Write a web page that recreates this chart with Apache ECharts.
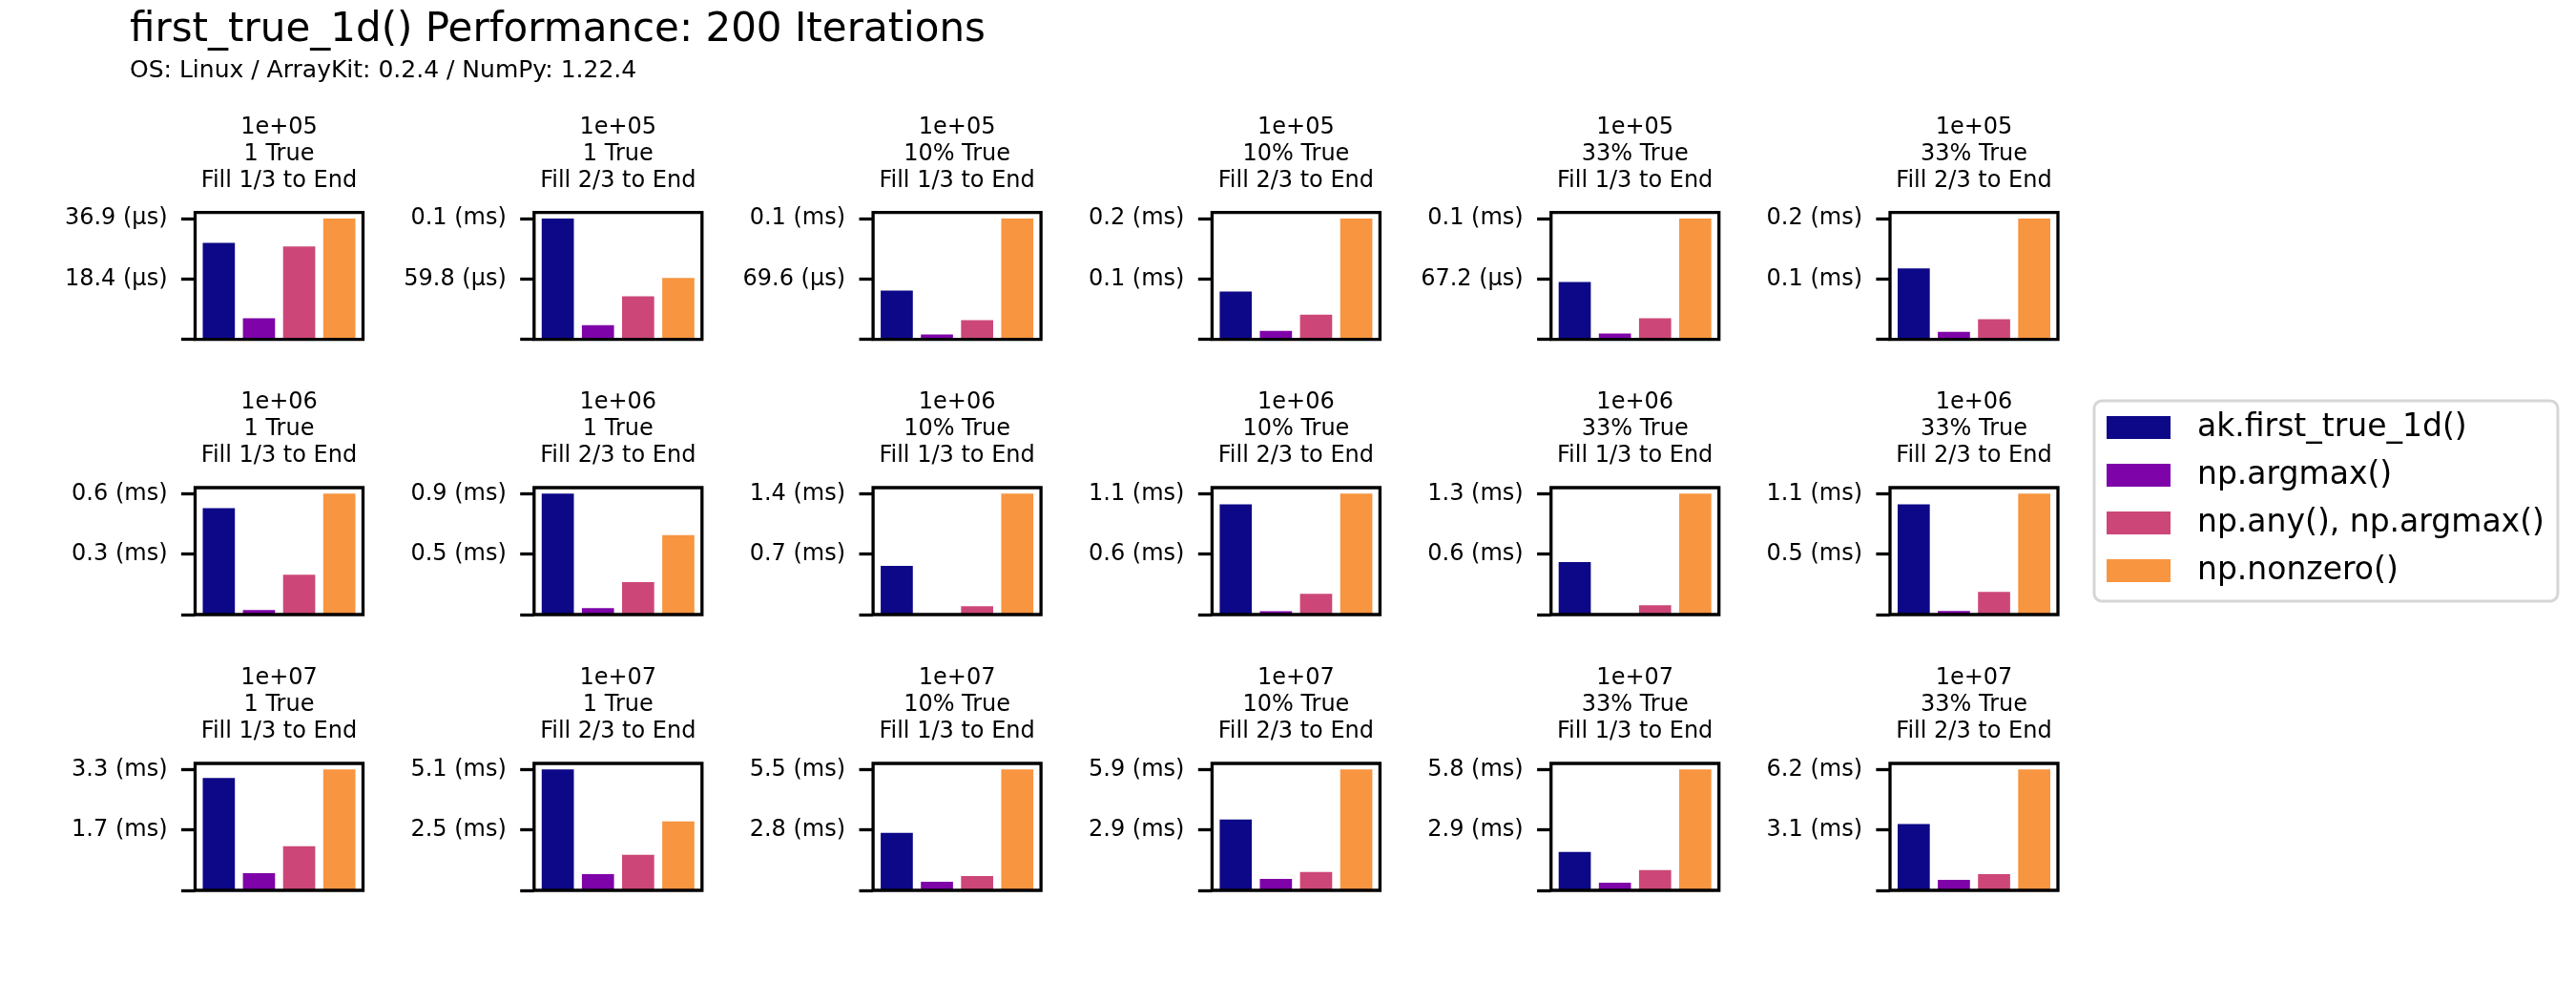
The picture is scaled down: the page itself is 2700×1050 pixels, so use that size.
<!DOCTYPE html>
<html>
<head>
<meta charset="utf-8">
<script src="https://cdn.jsdelivr.net/npm/echarts@6/dist/echarts.min.js"></script>
<style>
  html, body { margin: 0; padding: 0; background: #fff; }
  #chart { width: 2700px; height: 1050px; }
  #err { position: absolute; left: 10px; top: 960px; font: 14px monospace; white-space: pre; color: red; }
</style>
</head>
<body>
<div id="chart"></div>
<div id="err"></div>
<script>
// panel captions
var sizes = ['1e+05', '1e+06', '1e+07'];
var trueCounts = ['1 True', '1 True', '10% True', '10% True', '33% True', '33% True'];
var fills = ['Fill 1/3 to End', 'Fill 2/3 to End', 'Fill 1/3 to End', 'Fill 2/3 to End', 'Fill 1/3 to End', 'Fill 2/3 to End'];

var methods = ['ak.first_true_1d()', 'np.argmax()', 'np.any(), np.argmax()', 'np.nonzero()'];
var colors = ['#0d0887', '#7e03a8', '#cc4778', '#f89540'];

// durations in ms, one entry per panel (row by row)
var akValues = [0.0295, 0.1196, 0.0564, 0.0754, 0.0640, 0.1115,
	0.528, 0.92, 0.564, 1.021, 0.557, 0.985,
	3.084, 5.08, 2.628, 3.452, 1.845, 3.398];
var argmaxValues = [0.0065, 0.0142, 0.0056, 0.0135, 0.0065, 0.0120,
	0.022, 0.049, 0.008, 0.032, 0.006, 0.031,
	0.475, 0.686, 0.392, 0.559, 0.367, 0.539];
var anyArgmaxValues = [0.0284, 0.0427, 0.0221, 0.0391, 0.0235, 0.0317,
	0.198, 0.247, 0.097, 0.193, 0.099, 0.203,
	1.212, 1.494, 0.657, 0.888, 0.972, 0.837];
var nonzeroValues = [0.0369, 0.0608, 0.1392, 0.19, 0.1344, 0.19,
	0.6, 0.605, 1.4, 1.12, 1.28, 1.08,
	3.32, 2.90, 5.52, 5.88, 5.82, 6.2];

// tick labels: top tick = panel max, mid tick = half of it
var topLabels = ['36.9 (µs)', '0.1 (ms)', '0.1 (ms)', '0.2 (ms)', '0.1 (ms)', '0.2 (ms)',
	'0.6 (ms)', '0.9 (ms)', '1.4 (ms)', '1.1 (ms)', '1.3 (ms)', '1.1 (ms)',
	'3.3 (ms)', '5.1 (ms)', '5.5 (ms)', '5.9 (ms)', '5.8 (ms)', '6.2 (ms)'];
var midLabels = ['18.4 (µs)', '59.8 (µs)', '69.6 (µs)', '0.1 (ms)', '67.2 (µs)', '0.1 (ms)',
	'0.3 (ms)', '0.5 (ms)', '0.7 (ms)', '0.6 (ms)', '0.6 (ms)', '0.5 (ms)',
	'1.7 (ms)', '2.5 (ms)', '2.8 (ms)', '2.9 (ms)', '2.9 (ms)', '3.1 (ms)'];

var allValues = [akValues, argmaxValues, anyArgmaxValues, nonzeroValues];

var FONT = 'DejaVu Sans';
var boxLeft = 204.5, boxStep = 355.3, boxW = 176, boxH = 133;
var boxTops = [222.7, 511, 800];
var unit = boxW / 4.18;

function build(legendPad) {
	var grids = [], xAxes = [], yAxes = [], series = [], titles = [];
	titles.push({
		text: 'first_true_1d() Performance: 200 Iterations',
		left: 136, top: 11, padding: 0,
		textStyle: { fontFamily: FONT, fontSize: 42, fontWeight: 'normal', color: '#000' }
	});
	titles.push({
		text: 'OS: Linux / ArrayKit: 0.2.4 / NumPy: 1.22.4',
		left: 136, top: 62, padding: 0,
		textStyle: { fontFamily: FONT, fontSize: 25, fontWeight: 'normal', color: '#000' }
	});
	for (var i = 0; i < 18; i += 1) {
		var row = Math.floor(i / 6), col = i % 6;
		var left = boxLeft + col * boxStep, top = boxTops[row];
		var peak = Math.max(akValues[i], argmaxValues[i], anyArgmaxValues[i], nonzeroValues[i]);
		grids.push({
			left: left, top: top, width: boxW, height: boxH,
			show: true, z: 5, backgroundColor: 'transparent',
			borderColor: '#000', borderWidth: 3.3
		});
		xAxes.push({
			type: 'value', gridIndex: i, min: -0.59, max: 3.59,
			axisLine: { show: false, onZero: false }, axisTick: { show: false },
			axisLabel: { show: false }, splitLine: { show: false }
		});
		yAxes.push({
			type: 'value', gridIndex: i, min: 0, max: peak * 1.05,
			axisLine: { show: false, onZero: false },
			splitLine: { show: false },
			axisTick: {
				show: true, length: 14.6,
				customValues: [0, peak / 2, peak],
				lineStyle: { color: '#000', width: 3.3 }
			},
			axisLabel: {
				show: true, margin: 29,
				customValues: [peak / 2, peak],
				fontFamily: FONT, fontSize: 24, color: '#000',
				formatter: (function(t, md, p) {
					return function(value) {
						if (Math.abs(value - p) < p * 1e-6) return t;
						if (Math.abs(value - p / 2) < p * 1e-6) return md;
						return '';
					};
				})(topLabels[i], midLabels[i], peak)
			}
		});
		for (var m = 0; m < methods.length; m += 1) {
			series.push({
				name: methods[m], type: 'bar',
				xAxisIndex: i, yAxisIndex: i,
				barWidth: 0.8 * unit, barGap: '-100%',
				itemStyle: { color: colors[m] },
				data: [[m, allValues[m][i]]]
			});
		}
		titles.push({
			text: sizes[row] + '\n' + trueCounts[col] + '\n' + fills[col],
			left: left + boxW / 2, top: top - 103, padding: 0,
			textAlign: 'center',
			textStyle: { fontFamily: FONT, fontSize: 24, fontWeight: 'normal', color: '#000', lineHeight: 28 }
		});
	}
	var legendText = { fontFamily: FONT, fontSize: 33, color: '#000', lineHeight: 36 };
	if (legendPad) {
		legendText.padding = [0, 0, 0, 23];
	}
	return {
		animation: false,
		backgroundColor: '#fff',
		title: titles,
		grid: grids,
		xAxis: xAxes,
		yAxis: yAxes,
		legend: {
			data: methods,
			orient: 'vertical',
			left: 2195, top: 420,
			icon: 'rect',
			itemWidth: 67, itemHeight: 24, itemGap: 14,
			selectedMode: false,
			padding: [10, 14, 14, 13],
			backgroundColor: '#fff',
			borderColor: '#d6d6d6', borderWidth: 3, borderRadius: 8,
			textStyle: legendText
		},
		series: series
	};
}

var myChart = echarts.init(document.getElementById('chart'));
try {
	myChart.setOption(build(true));
} catch (e) {
	document.getElementById('err').textContent = String(e);
	myChart.dispose();
	myChart = echarts.init(document.getElementById('chart'));
	myChart.setOption(build(false));
}
</script>
</body>
</html>
